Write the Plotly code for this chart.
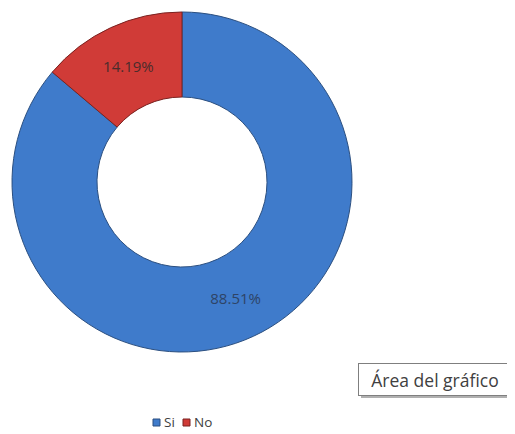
import plotly.graph_objects as go

labels = ["Si", "No"]
values = [88.51, 14.19]
text_labels = ["88.51%", "14.19%"]
colors = ["#3F7BCB", "#D03B37"]
edge_colors = ["#2B4F80", "#7A2220"]

# page body has an 8px default margin: size the figure to the visible area
OFF = 8
W, H = 515 - OFF, 434 - OFF
FONT = "Open Sans, Lato, sans-serif"


def px(x):
    return (x - OFF) / W


def py(y):
    return 1 - (y - OFF) / H


fig = go.Figure(go.Pie(
    labels=labels,
    values=values,
    text=text_labels,
    textinfo="text",
    texttemplate="%{text}",
    textposition="inside",
    insidetextorientation="horizontal",
    hole=0.5,
    sort=False,
    direction="clockwise",
    rotation=0,
    marker=dict(colors=colors, line=dict(color=edge_colors, width=1)),
    textfont=dict(family=FONT, size=15, color=["#2E4466", "#4A2C2C"]),
    domain=dict(x=[px(12), px(352)], y=[py(352), py(12)]),
    showlegend=False,
))

# Custom legend (squares + labels) built from the same label/colour lists
leg_x = [153, 183]
for lab, col, ec, lx in zip(labels, colors, edge_colors, leg_x):
    fig.add_shape(type="rect", xref="paper", yref="paper",
                  x0=px(lx), x1=px(lx + 7), y0=py(426), y1=py(419),
                  fillcolor=col, line=dict(color=ec, width=1))
    fig.add_annotation(x=px(lx + 9), y=py(422), xref="paper", yref="paper",
                       xanchor="left", yanchor="middle", text=lab, showarrow=False,
                       font=dict(family=FONT, size=13.5, color="#404040"))

# Tooltip shadow
fig.add_shape(type="rect", xref="paper", yref="paper",
              x0=px(361), x1=px(515), y0=py(398), y1=py(366),
              fillcolor="#B0B0B0", line=dict(width=0), layer="above")

fig.add_annotation(
    x=px((358 + 512) / 2), y=py(379), xref="paper", yref="paper",
    xanchor="center", yanchor="middle",
    text="Área del gráfico", showarrow=False,
    width=148, height=27,
    font=dict(family=FONT, size=17.5, color="#404040"),
    bgcolor="white", bordercolor="#7F7F7F", borderwidth=1, borderpad=2,
)

fig.update_layout(
    width=W, height=H,
    margin=dict(l=0, r=0, t=0, b=0, autoexpand=False),
    paper_bgcolor="white", plot_bgcolor="white",
    showlegend=False,
)

fig.write_html("out.html")
